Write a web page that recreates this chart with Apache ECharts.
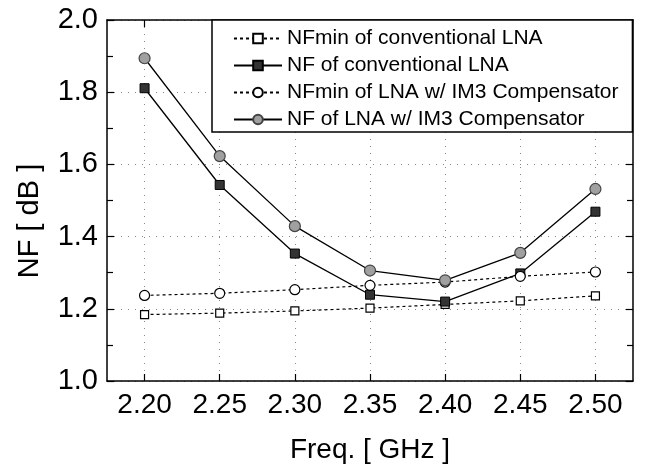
<!DOCTYPE html>
<html>
<head>
<meta charset="utf-8">
<script src="https://cdn.jsdelivr.net/npm/echarts@6/dist/echarts.min.js"></script>
<style>html,body{margin:0;padding:0;background:#fff}#chart{width:650px;height:469px}</style>
</head>
<body>
<div id="chart"></div>
<script>
var freq = [2.20, 2.25, 2.30, 2.35, 2.40, 2.45, 2.50];
var nfminConv = [1.184, 1.188, 1.194, 1.202, 1.212, 1.222, 1.236];
var nfConv = [1.811, 1.543, 1.353, 1.239, 1.220, 1.298, 1.469];
var nfminIm3 = [1.237, 1.243, 1.253, 1.265, 1.274, 1.290, 1.302];
var nfIm3 = [1.894, 1.623, 1.429, 1.306, 1.279, 1.355, 1.532];
var names = ['NFmin of conventional LNA', 'NF of conventional LNA',
  'NFmin of LNA w/ IM3 Compensator', 'NF of LNA w/ IM3 Compensator'];

function pairs(ys) {
  return freq.map(function (x, i) { return [x, ys[i]]; });
}

var font = 'Liberation Sans, Arial, sans-serif';
var chart = echarts.init(document.getElementById('chart'), null, {renderer: 'canvas'});

var xCommon = {
  type: 'value', min: 2.175, max: 2.525,
  axisLine: {lineStyle: {color: '#000', width: 1.5}},
  axisTick: {inside: true, length: 7, customValues: freq, lineStyle: {color: '#000', width: 1.2}},
  splitLine: {show: false}
};
var yCommon = {
  type: 'value', min: 1.0, max: 2.0, interval: 0.2,
  axisLine: {show: true, lineStyle: {color: '#000', width: 1.5}},
  axisTick: {inside: true, length: 7, lineStyle: {color: '#000', width: 1.2}},
  minorTick: {show: true, splitNumber: 2, length: 6, lineStyle: {color: '#000', width: 1.2}}
};

var option = {
  animation: false,
  backgroundColor: '#fff',
  grid: {left: 107, right: 17, top: 20, bottom: 87},
  xAxis: [
    Object.assign({}, xCommon, {
      position: 'bottom',
      axisLabel: {customValues: freq, margin: 10, fontSize: 28, color: '#000', fontFamily: font,
        formatter: function (v) { return v.toFixed(2); }},
      splitLine: {show: true, customValues: freq, lineStyle: {color: '#888', type: [1, 6], width: 1}},
      name: 'Freq. [ GHz ]', nameLocation: 'middle', nameGap: 55,
      nameTextStyle: {fontSize: 28, color: '#000', fontFamily: font}
    }),
    Object.assign({}, xCommon, {position: 'top', axisLabel: {show: false}})
  ],
  yAxis: [
    Object.assign({}, yCommon, {
      position: 'left',
      axisLabel: {margin: 9, fontSize: 29, color: '#000', fontFamily: font,
        formatter: function (v) { return v.toFixed(1); }},
      splitLine: {show: true, lineStyle: {color: '#888', type: [1, 6], width: 1}}
    }),
    Object.assign({}, yCommon, {position: 'right', axisLabel: {show: false}, splitLine: {show: false}})
  ],
  graphic: [{
    type: 'text', x: 30, y: 221, rotation: Math.PI / 2,
    style: {text: 'NF [ dB ]', font: '29px ' + font, fill: '#000',
      textAlign: 'center', textVerticalAlign: 'middle'}
  }],
  legend: {
    orient: 'vertical', left: 212, top: 20,
    data: names,
    itemWidth: 48, itemHeight: 12, itemGap: 6,
    padding: [8, 14, 2, 21],
    borderColor: '#000', borderWidth: 1.5, backgroundColor: '#fff',
    textStyle: {fontSize: 21, color: '#000', fontFamily: font}
  },
  series: [
    {
      name: names[0], type: 'line', data: pairs(nfminConv),
      symbol: 'rect', symbolSize: 8,
      lineStyle: {color: '#000', width: 1.2, type: [3, 3]},
      itemStyle: {color: '#fff', borderColor: '#000', borderWidth: 1.2}
    },
    {
      name: names[1], type: 'line', data: pairs(nfConv),
      symbol: 'rect', symbolSize: 9,
      lineStyle: {color: '#000', width: 1.3},
      itemStyle: {color: '#333', borderColor: '#000', borderWidth: 1}
    },
    {
      name: names[2], type: 'line', data: pairs(nfminIm3),
      symbol: 'circle', symbolSize: 10,
      lineStyle: {color: '#000', width: 1.2, type: [3, 3]},
      itemStyle: {color: '#fff', borderColor: '#000', borderWidth: 1.2}
    },
    {
      name: names[3], type: 'line', data: pairs(nfIm3),
      symbol: 'circle', symbolSize: 11,
      lineStyle: {color: '#000', width: 1.3},
      itemStyle: {color: '#a0a0a0', borderColor: '#444', borderWidth: 1.2}
    }
  ]
};
chart.setOption(option);
</script>
</body>
</html>
